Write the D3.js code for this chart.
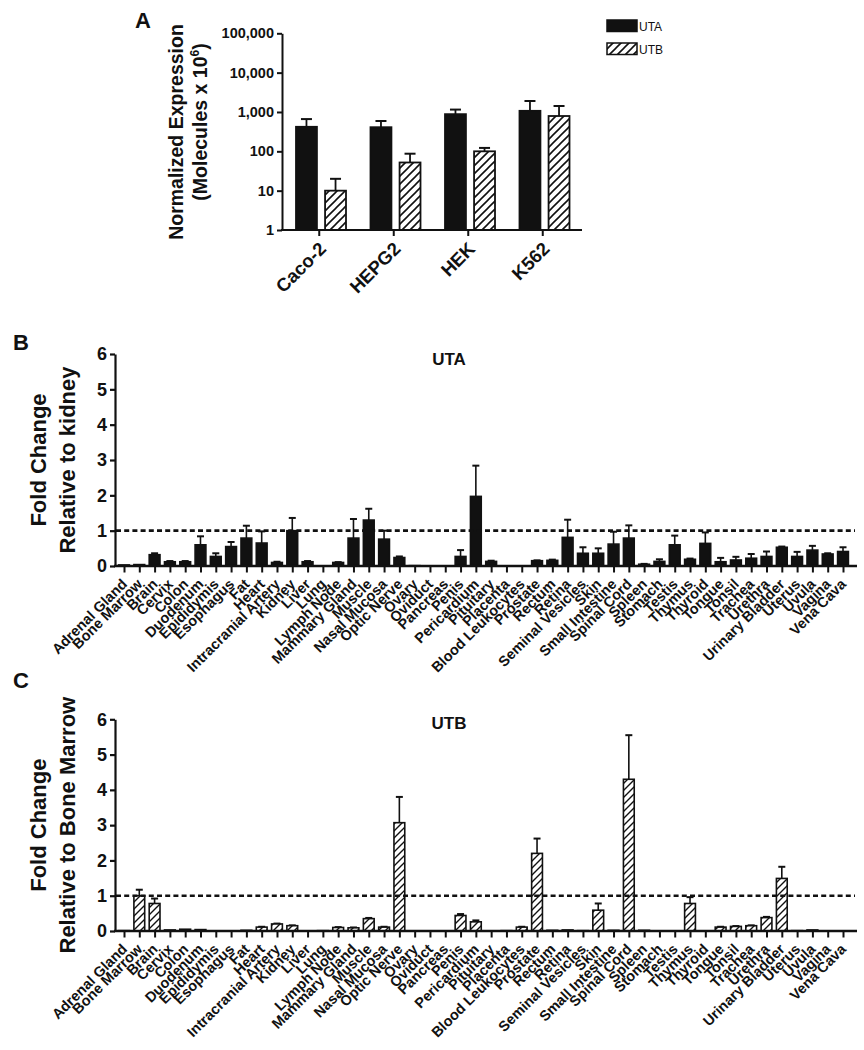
<!DOCTYPE html>
<html>
<head>
<meta charset="utf-8">
<script src="https://cdn.jsdelivr.net/npm/d3@7/dist/d3.min.js"></script>
<style>
  html, body { margin: 0; padding: 0; background: #fff; }
  svg { display: block; }
  text { font-family: "Liberation Sans", Arial, Helvetica, sans-serif; fill: #111; }
</style>
</head>
<body>
<svg id="chart" width="864" height="1050"></svg>
<script>
// ---------------- DATA ----------------
const cellLines = ["Caco-2", "HEPG2", "HEK", "K562"];
const seriesNames = ["UTA", "UTB"];
const utaCell = [420, 410, 880, 1070];
const utaCellErr = [240, 180, 270, 830];
const utbCell = [10, 52, 100, 790];
const utbCellErr = [10, 35, 22, 630];
const logTicks = [1, 10, 100, 1000, 10000, 100000];
const logTickLabels = ["1", "10", "100", "1,000", "10,000", "100,000"];

const tissues = ["Adrenal Gland", "Bone Marrow", "Brain", "Cervix", "Colon", "Duodenum",
  "Epididymis", "Esophagus", "Fat", "Heart", "Intracranial Artery", "Kidney", "Liver",
  "Lung", "Lymph Node", "Mammary Gland", "Muscle", "Nasal Mucosa", "Optic Nerve", "Ovary",
  "Oviduct", "Pancreas", "Penis", "Pericardium", "Pituitary", "Placenta", "Blood Leukocytes",
  "Prostate", "Rectum", "Retina", "Seminal Vesicles", "Skin", "Small Intestine",
  "Spinal Cord", "Spleen", "Stomach", "Testis", "Thymus", "Thyroid", "Tongue", "Tonsil",
  "Trachea", "Urethra", "Urinary Bladder", "Uterus", "Uvula", "Vagina", "Vena Cava"];

const utaTissue = [0.03, 0.04, 0.32, 0.12, 0.12, 0.60, 0.27, 0.55, 0.79, 0.65, 0.10, 1.00,
  0.12, 0.00, 0.10, 0.79, 1.30, 0.76, 0.24, 0.01, 0.00, 0.00, 0.27, 1.97, 0.13, 0.00, 0.00,
  0.15, 0.16, 0.81, 0.36, 0.36, 0.62, 0.79, 0.05, 0.13, 0.60, 0.19, 0.64, 0.12, 0.17, 0.22,
  0.27, 0.53, 0.27, 0.45, 0.34, 0.41];
const utaTissueErr = [0, 0, 0.04, 0.02, 0.02, 0.24, 0.09, 0.13, 0.35, 0.33, 0.02, 0.36,
  0.02, 0, 0.01, 0.54, 0.32, 0.24, 0.03, 0, 0, 0, 0.18, 0.87, 0.02, 0, 0,
  0.01, 0.02, 0.50, 0.17, 0.14, 0.35, 0.36, 0.01, 0.06, 0.26, 0.02, 0.31, 0.11, 0.09, 0.12,
  0.14, 0.02, 0.13, 0.12, 0.02, 0.12];

const utbTissue = [0.01, 1.00, 0.78, 0.03, 0.05, 0.04, 0.00, 0.00, 0.02, 0.11, 0.20, 0.15,
  0.00, 0.01, 0.10, 0.09, 0.35, 0.11, 3.07, 0.00, 0.00, 0.00, 0.44, 0.26, 0.00, 0.01, 0.11,
  2.20, 0.02, 0.03, 0.01, 0.59, 0.02, 4.30, 0.02, 0.00, 0.00, 0.78, 0.00, 0.11, 0.13, 0.15,
  0.38, 1.49, 0.01, 0.03, 0.00, 0.00];
const utbTissueErr = [0, 0.17, 0.14, 0, 0, 0, 0, 0, 0, 0.01, 0.01, 0.01,
  0, 0, 0.01, 0.01, 0.02, 0.01, 0.73, 0, 0, 0, 0.04, 0.04, 0, 0, 0.01,
  0.42, 0, 0, 0, 0.19, 0, 1.25, 0, 0, 0, 0.18, 0, 0.01, 0.01, 0.01,
  0.02, 0.33, 0, 0, 0, 0];
const foldTicks = [0, 1, 2, 3, 4, 5, 6];

// ---------------- DRAW ----------------
const svg = d3.select("#chart");
const defs = svg.append("defs");
function hatch(id, size, sw) {
  const p = defs.append("pattern").attr("id", id)
    .attr("patternUnits", "userSpaceOnUse").attr("width", size).attr("height", size);
  p.append("rect").attr("width", size).attr("height", size).attr("fill", "#fff");
  p.append("path")
    .attr("d", `M${-size/4},${size/4} L${size/4},${-size/4} M0,${size} L${size},0 M${size*3/4},${size*5/4} L${size*5/4},${size*3/4}`)
    .attr("stroke", "#111").attr("stroke-width", sw);
}
hatch("hatchA", 8, 1.6);
hatch("hatchC", 7, 1.4);

// ---------- Panel A ----------
(function panelA() {
  const g = svg.append("g");
  const x = d3.scaleBand().domain(cellLines).range([282, 580]);
  const xi = d3.scaleBand().domain(seriesNames).range([14, 64]).paddingInner(0.28);
  const y = d3.scaleLog().domain([1, 100000]).range([230, 33.3]);

  g.append("text").attr("x", 135).attr("y", 28).attr("font-size", 22)
    .attr("font-weight", "bold").text("A");

  // y axis
  const ya = g.append("g").attr("transform", "translate(282,0)")
    .call(d3.axisLeft(y).tickValues(logTicks).tickFormat((d, i) => logTickLabels[i])
      .tickSize(5).tickSizeOuter(0).tickPadding(3));
  ya.selectAll("path, line").attr("stroke", "#111").attr("stroke-width", 2);
  ya.selectAll("text").attr("font-size", 14.5).attr("font-weight", "bold")
    .style("font-family", '"Liberation Sans", Arial, sans-serif').attr("fill", "#111");

  // y label
  const yl = g.append("text").attr("transform", "translate(183,132) rotate(-90)")
    .attr("text-anchor", "middle").attr("font-size", 19.5).attr("font-weight", "bold");
  yl.text("Normalized Expression");
  const yl2 = g.append("text").attr("transform", "translate(207,122) rotate(-90)")
    .attr("text-anchor", "middle").attr("font-size", 19.5).attr("font-weight", "bold");
  yl2.append("tspan").text("(Molecules x 10");
  yl2.append("tspan").attr("dy", -8).attr("font-size", 12).text("6");
  yl2.append("tspan").attr("dy", 8).text(")");

  const series = [
    { name: "UTA", vals: utaCell, err: utaCellErr, fill: "#111" },
    { name: "UTB", vals: utbCell, err: utbCellErr, fill: "url(#hatchA)" }
  ];
  series.forEach(s => {
    cellLines.forEach((c, i) => {
      const x0 = x(c) + xi(s.name), w = xi.bandwidth(), cx = x0 + w / 2;
      const top = y(s.vals[i] + s.err[i]);
      g.append("line").attr("x1", cx).attr("x2", cx).attr("y1", y(s.vals[i])).attr("y2", top)
        .attr("stroke", "#111").attr("stroke-width", 1.8);
      g.append("line").attr("x1", cx - 5.5).attr("x2", cx + 5.5).attr("y1", top).attr("y2", top)
        .attr("stroke", "#111").attr("stroke-width", 2);
      g.append("rect").attr("x", x0).attr("y", y(s.vals[i])).attr("width", w)
        .attr("height", y(1) - y(s.vals[i])).attr("fill", s.fill)
        .attr("stroke", "#111").attr("stroke-width", 1.8);
    });
  });

  // x axis
  const xa = g.append("g").attr("transform", "translate(0,230)")
    .call(d3.axisBottom(x).tickSize(6).tickSizeOuter(0).tickFormat(""));
  xa.select(".domain").remove();
  xa.selectAll("line").attr("stroke", "#111").attr("stroke-width", 2);
  g.append("line").attr("x1", 281).attr("x2", 582).attr("y1", 230).attr("y2", 230)
    .attr("stroke", "#111").attr("stroke-width", 2.2);
  cellLines.forEach(c => {
    const cx = x(c) + x.bandwidth() / 2;
    g.append("text").attr("transform", `translate(${cx + 8},${250}) rotate(-45)`)
      .attr("text-anchor", "end").attr("font-size", 18.5).attr("font-weight", "bold").text(c);
  });

  // legend
  const lg = g.append("g");
  [["UTA", "#111", 20], ["UTB", "url(#hatchA)", 43]].forEach(([n, f, yy]) => {
    lg.append("rect").attr("x", 607).attr("y", yy).attr("width", 30).attr("height", 11.5)
      .attr("fill", f).attr("stroke", "#111").attr("stroke-width", 1.5);
    lg.append("text").attr("x", 639).attr("y", yy + 10.5).attr("font-size", 12).text(n);
  });
})();

// ---------- Panels B & C ----------
function tissuePanel(opts) {
  const g = svg.append("g");
  const x = d3.scalePoint().domain(tissues).range([124, 843]);
  const y = d3.scaleLinear().domain([0, 6]).range([opts.y0, opts.y6]);
  const bw = 10.8;

  g.append("text").attr("x", opts.letterX).attr("y", opts.letterY).attr("font-size", 22)
    .attr("font-weight", "bold").text(opts.letter);

  g.append("text").attr("x", 449).attr("y", opts.titleY).attr("text-anchor", "middle")
    .attr("font-size", 17).attr("font-weight", "bold").text(opts.title);

  const mid = (opts.y0 + opts.y6) / 2;
  g.append("text").attr("transform", `translate(46,${mid}) rotate(-90)`)
    .attr("text-anchor", "middle").attr("font-size", 22).attr("font-weight", "bold")
    .text("Fold Change");
  g.append("text").attr("transform", `translate(75,${mid}) rotate(-90)`)
    .attr("text-anchor", "middle").attr("font-size", 22).attr("font-weight", "bold")
    .text(opts.ylabel);

  // y axis
  const ya = g.append("g").attr("transform", "translate(115,0)")
    .call(d3.axisLeft(y).tickValues(foldTicks).tickFormat(d3.format("d"))
      .tickSize(5).tickSizeOuter(0).tickPadding(3));
  ya.selectAll("path, line").attr("stroke", "#111").attr("stroke-width", 2.2);
  ya.selectAll("text").attr("font-size", 18).attr("font-weight", "bold")
    .style("font-family", '"Liberation Sans", Arial, sans-serif').attr("fill", "#111");

  // bars
  tissues.forEach((t, i) => {
    const v = opts.vals[i], e = opts.err[i], cx = x(t);
    if (e > 0) {
      const top = y(v + e);
      g.append("line").attr("x1", cx).attr("x2", cx).attr("y1", y(v)).attr("y2", top)
        .attr("stroke", "#111").attr("stroke-width", 1.6);
      g.append("line").attr("x1", cx - 3.5).attr("x2", cx + 3.5).attr("y1", top).attr("y2", top)
        .attr("stroke", "#111").attr("stroke-width", 2);
    }
    if (v > 0) {
      g.append("rect").attr("x", cx - bw / 2).attr("y", y(v)).attr("width", bw)
        .attr("height", y(0) - y(v)).attr("fill", opts.fill)
        .attr("stroke", "#111").attr("stroke-width", 1.6);
    }
  });

  // dashed reference line at 1
  g.append("line").attr("x1", 116).attr("x2", 855).attr("y1", y(1)).attr("y2", y(1))
    .attr("stroke", "#111").attr("stroke-width", 2.6).attr("stroke-dasharray", "5,3.2");

  // x axis
  const xa = g.append("g").attr("transform", `translate(0,${opts.y0})`)
    .call(d3.axisBottom(x).tickSize(6.5).tickSizeOuter(0).tickFormat(""));
  xa.select(".domain").remove();
  xa.selectAll("line").attr("stroke", "#111").attr("stroke-width", 2);
  g.append("line").attr("x1", 114).attr("x2", 857).attr("y1", opts.y0).attr("y2", opts.y0)
    .attr("stroke", "#111").attr("stroke-width", 2.6);

  tissues.forEach(t => {
    g.append("text").attr("transform", `translate(${x(t) + 4},${opts.y0 + 19}) rotate(-45)`)
      .attr("text-anchor", "end").attr("font-size", 14.5).attr("font-weight", "bold").text(t);
  });
}

tissuePanel({ letter: "B", letterX: 13, letterY: 350, title: "UTA", titleY: 365,
  ylabel: "Relative to kidney", y0: 566, y6: 354, vals: utaTissue, err: utaTissueErr, fill: "#111" });
tissuePanel({ letter: "C", letterX: 13, letterY: 688, title: "UTB", titleY: 729,
  ylabel: "Relative to Bone Marrow", y0: 931, y6: 719.3, vals: utbTissue, err: utbTissueErr, fill: "url(#hatchC)" });
</script>
</body>
</html>
